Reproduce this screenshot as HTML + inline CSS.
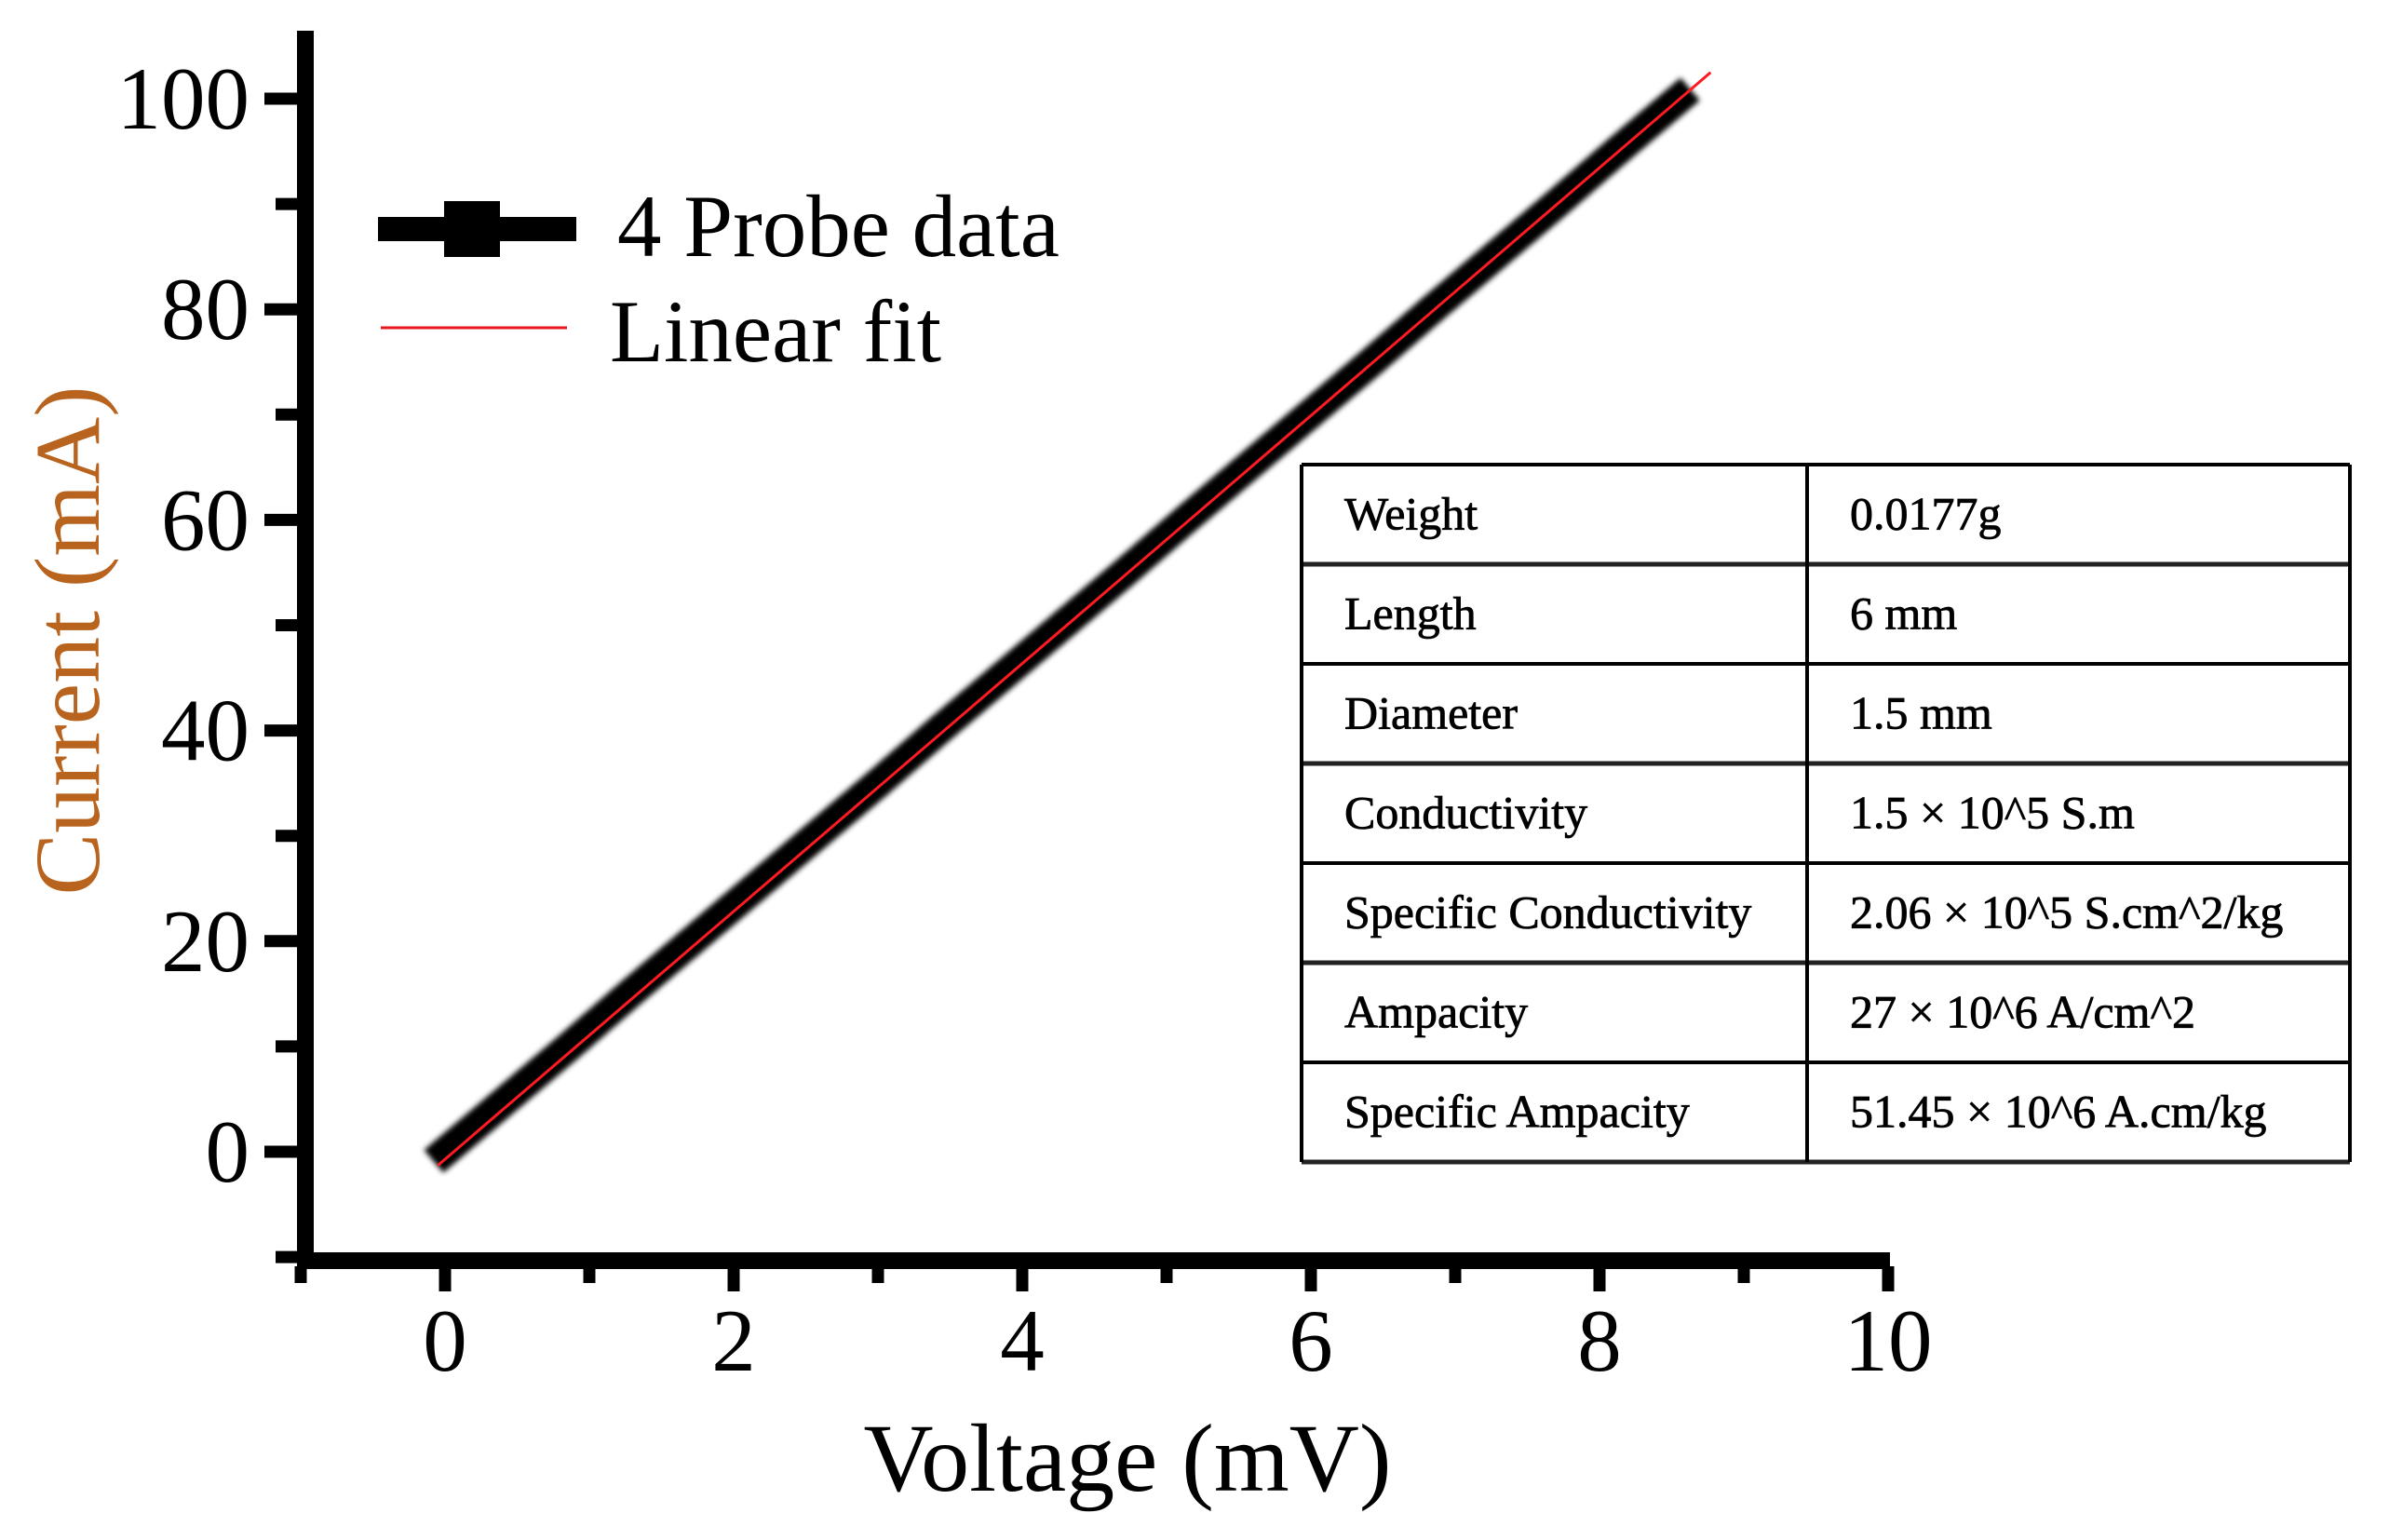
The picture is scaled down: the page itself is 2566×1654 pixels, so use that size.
<!DOCTYPE html>
<html><head><meta charset="utf-8">
<style>
html,body{margin:0;padding:0;background:#fff;}
svg{display:block;font-family:"Liberation Serif",serif;}
</style></head>
<body>
<svg id="chart" width="2566" height="1654" viewBox="0 0 2566 1654" xmlns="http://www.w3.org/2000/svg">
<defs>
<filter id="blur" x="-10%" y="-10%" width="120%" height="120%"><feGaussianBlur stdDeviation="3"/></filter>
</defs>
<g id="axes"></g>
<g id="series"></g>
<text x="1211" y="1601" font-size="104" text-anchor="middle">Voltage (mV)</text>
<text transform="translate(106,688) rotate(-90)" font-size="100" text-anchor="middle" fill="#b8641e">Current (mA)</text>
<g>
  <line x1="406" y1="246" x2="619" y2="246" stroke="#000" stroke-width="26"/>
  <rect x="477" y="216" width="60" height="60" fill="#000"/>
  <text x="663" y="275" font-size="95">4 Probe data</text>
  <line x1="409" y1="352" x2="609" y2="352" stroke="#e8141c" stroke-width="3"/>
  <text x="655" y="388" font-size="95">Linear fit</text>
</g>
<g id="table"></g>
</svg>
<script>
const voltages = [0, 0.43, 0.86, 1.28, 1.71, 2.14, 2.57, 3.0, 3.42, 3.85, 4.28, 4.71, 5.13, 5.56, 5.99, 6.42, 6.84, 7.27, 7.7, 8.12, 8.55];
const currents = [0, 5, 10, 15, 20, 25, 30, 35, 40, 45, 50, 55, 60, 65, 70, 75, 80, 85, 90, 95, 100];
const fitX = [-0.05, 8.77];
const fitY = [-1.3, 102.5];
const xTicks = [0, 2, 4, 6, 8, 10];
const yTicks = [0, 20, 40, 60, 80, 100];
const tableRows = [
  ["Weight", "0.0177g"],
  ["Length", "6 mm"],
  ["Diameter", "1.5 mm"],
  ["Conductivity", "1.5 \u00d7 10^5 S.m"],
  ["Specific Conductivity", "2.06 \u00d7 10^5 S.cm^2/kg"],
  ["Ampacity", "27 \u00d7 10^6 A/cm^2"],
  ["Specific Ampacity", "51.45 \u00d7 10^6 A.cm/kg"]
];
const NS = "http://www.w3.org/2000/svg";
const sx = v => 478 + v * 155;
const sy = v => 1237 - v * 11.31;
function mk(tag, attrs, parent){const e=document.createElementNS(NS,tag);for(const k in attrs)e.setAttribute(k,attrs[k]);parent.appendChild(e);return e;}
const axes = document.getElementById('axes');
let e = mk('line',{x1:328,y1:33,x2:328,y2:1363,stroke:'#000','stroke-width':18},axes);


e = mk('line',{x1:319,y1:1354,x2:2030,y2:1354,stroke:'#000','stroke-width':18},axes);


for (let v = -1; v <= 10; v++) {
  const major = v % 2 === 0;
  e = mk('line',{x1:sx(v),y1:1360,x2:sx(v),y2:major?1387:1378,stroke:'#000','stroke-width':13},axes);
  
  
}
xTicks.forEach(v => {
  const t = mk('text',{x:sx(v),y:1472,'font-size':95,'text-anchor':'middle'},axes);
  t.textContent = v;
  
  
});
for (let v = -10; v <= 110; v += 10) {
  const major = v % 20 === 0;
  e = mk('line',{x1:major?284:296,y1:sy(v),x2:322,y2:sy(v),stroke:'#000','stroke-width':13},axes);
  
  
}
yTicks.forEach(v => {
  const t = mk('text',{x:268,y:sy(v)+32,'font-size':95,'text-anchor':'end'},axes);
  t.textContent = v;
  
  
});
const series = document.getElementById('series');
const g = mk('g',{filter:'url(#blur)'},series);


const pts = voltages.map((v,i)=>sx(v)+','+sy(currents[i])).join(' ');
e = mk('polyline',{points:pts,fill:'none',stroke:'#000','stroke-width':32,'stroke-linecap':'square','stroke-linejoin':'round'},g);


voltages.forEach((v,i)=>{
  const r = mk('circle',{cx:sx(v),cy:sy(currents[i]),r:16,fill:'#000'},g);
  
  
});
e = mk('line',{x1:sx(fitX[0]),y1:sy(fitY[0]),x2:sx(fitX[1]),y2:sy(fitY[1]),stroke:'#ff1a22','stroke-width':3},series);


const tbl = document.getElementById('table');
const tx0 = 1398, tx1 = 2524, tcol = 1941, ty0 = 499, rh = 107;
e = mk('rect',{x:tx0,y:ty0,width:tx1-tx0,height:rh*tableRows.length,fill:'#fff'},tbl);


tableRows.forEach((row,i)=>{
  const y = ty0 + i*rh;
  const a = mk('text',{x:tx0+46,y:y+rh/2+16,'font-size':50,stroke:'#000','stroke-width':0.8},tbl);
  a.textContent = row[0];
  
  
  const b = mk('text',{x:tcol+46,y:y+rh/2+16,'font-size':50,stroke:'#000','stroke-width':0.8},tbl);
  b.textContent = row[1];
  
  
});
for (let i = 0; i <= tableRows.length; i++) {
  const l = mk('line',{x1:tx0,y1:ty0+i*rh,x2:tx1,y2:ty0+i*rh,stroke:i%2?'#222':'#000','stroke-width':i%2?5:4},tbl);
  
  
}
[tx0, tcol, tx1].forEach(x=>{
  const l = mk('line',{x1:x,y1:ty0,x2:x,y2:ty0+rh*tableRows.length,stroke:'#000','stroke-width':4},tbl);
  
  
});
</script>
</body></html>
